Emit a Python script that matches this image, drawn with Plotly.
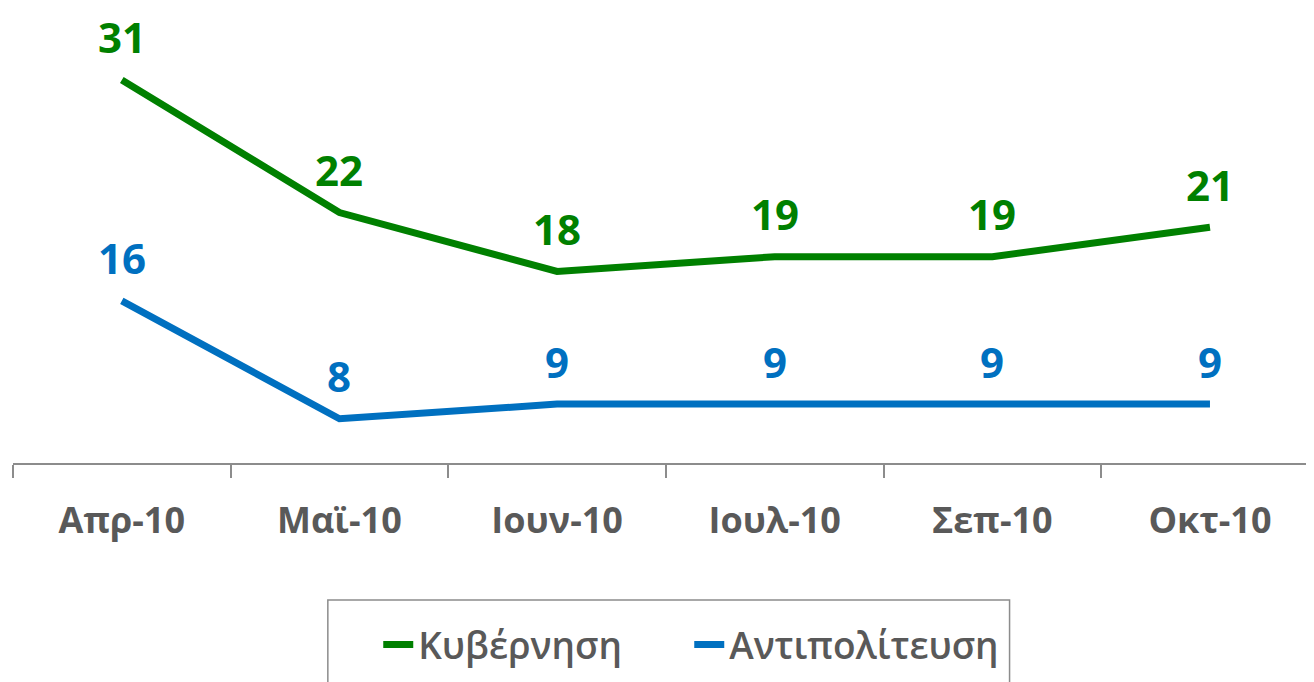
import plotly.graph_objects as go

months = ["Απρ-10", "Μαϊ-10", "Ιουν-10", "Ιουλ-10", "Σεπ-10", "Οκτ-10"]
government = [31, 22, 18, 19, 19, 21]
opposition = [16, 8, 9, 9, 9, 9]

GREEN = "#008000"
BLUE = "#0070C0"
GRAY = "#595959"
FONT = "Open Sans, Liberation Sans, sans-serif"

fig = go.Figure()
fig.add_trace(go.Scatter(x=months, y=government, mode="lines", name="Κυβέρνηση",
                         line=dict(color=GREEN, width=7)))
fig.add_trace(go.Scatter(x=months, y=opposition, mode="lines", name="Αντιπολίτευση",
                         line=dict(color=BLUE, width=7)))

# data labels above each point
annotations = []
for values, color in [(government, GREEN), (opposition, BLUE)]:
    for m, v in zip(months, values):
        annotations.append(dict(
            x=m, y=v, text=str(v), showarrow=False, yshift=43,
            font=dict(family=FONT, size=42, color=color, weight="bold"),
        ))

# page body has an 8px margin, so the figure is sized to fit the window
fig.update_layout(
    width=1306, height=674,
    plot_bgcolor="white", paper_bgcolor="white",
    margin=dict(l=5, r=0, t=13, b=219),
    font=dict(family=FONT, color=GRAY),
    annotations=annotations,
    showlegend=True,
    legend=dict(
        orientation="h", xref="container", yref="container",
        x=0.2835, xanchor="left", y=0.055, yanchor="middle",
        entrywidth=266, entrywidthmode="pixels",
        font=dict(family=FONT, size=37, color=GRAY, weight=600),
        bgcolor="rgba(0,0,0,0)", borderwidth=0,
    ),
    shapes=[dict(type="rect", xref="paper", yref="paper",
                 x0=0.242, x1=0.766, y0=-0.6, y1=-0.31,
                 line=dict(color="#8c8c8c", width=1.5), fillcolor="rgba(0,0,0,0)")],
)
fig.update_xaxes(
    range=[-0.5, 5.478], showline=True, linecolor="#8c8c8c", linewidth=2,
    ticks="outside", tickson="boundaries", ticklen=13, tickcolor="#8c8c8c", tickwidth=2,
    showgrid=False, zeroline=False,
    tickfont=dict(family=FONT, size=36, color=GRAY, weight="bold"),
    ticklabelstandoff=25,
)
fig.update_yaxes(range=[5, 35], visible=False, showgrid=False, zeroline=False)

fig.write_html("out.html")
